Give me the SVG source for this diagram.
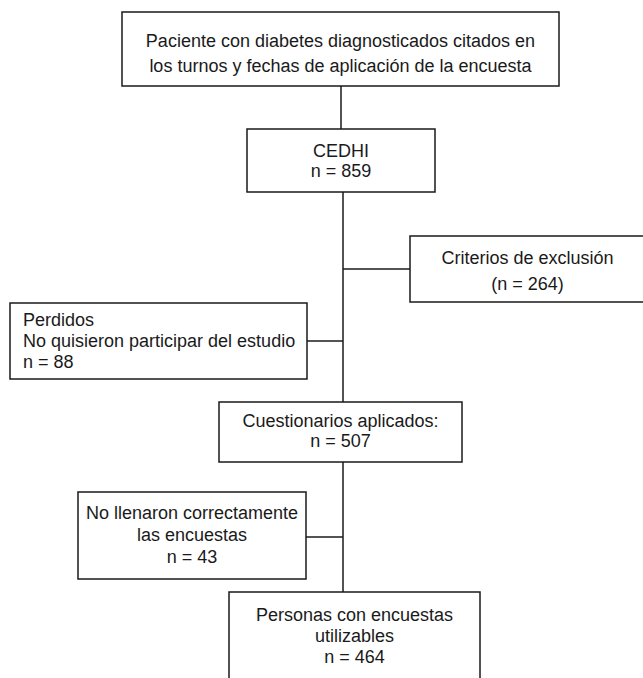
<svg xmlns="http://www.w3.org/2000/svg" width="643" height="678" viewBox="0 0 643 678">
<style>
rect{fill:#fff;stroke:#1a1a1a;stroke-width:1.5}
line,path{stroke:#1a1a1a;stroke-width:1.5;fill:none}
text{font-family:"Liberation Sans",Arial,sans-serif;font-size:18px;fill:#1a1a1a}
.c{text-anchor:middle}
</style>
<rect width="643" height="678" style="fill:#fff;stroke:none"/>
<g id="connectors">
<line x1="341" y1="86" x2="341" y2="129"/>
<line x1="343" y1="192" x2="343" y2="402"/>
<line x1="343" y1="269" x2="410" y2="269"/>
<line x1="307" y1="341" x2="343" y2="341"/>
<line x1="343" y1="462" x2="343" y2="592"/>
<line x1="306" y1="537" x2="343" y2="537"/>
</g>
<g id="n1">
<rect x="122" y="12" width="437" height="74"/>
<text class="c" x="340.5" y="47">Paciente con diabetes diagnosticados citados en</text>
<text class="c" x="340.5" y="72">los turnos y fechas de aplicación de la encuesta</text>
</g>
<g id="n2">
<rect x="247" y="129" width="188" height="63"/>
<text class="c" x="341" y="157">CEDHI</text>
<text class="c" x="341" y="177">n = 859</text>
</g>
<g id="n3">
<rect x="410" y="236" width="245" height="66"/>
<text class="c" x="527.5" y="264">Criterios de exclusión</text>
<text class="c" x="527.5" y="290">(n = 264)</text>
</g>
<g id="n4">
<rect x="10" y="303" width="297" height="76"/>
<text x="23" y="326">Perdidos</text>
<text x="23" y="347">No quisieron participar del estudio</text>
<text x="23" y="368">n = 88</text>
</g>
<g id="n5">
<rect x="219" y="402" width="243" height="60"/>
<text class="c" x="340.5" y="427">Cuestionarios aplicados:</text>
<text class="c" x="340.5" y="447">n = 507</text>
</g>
<g id="n6">
<rect x="78" y="492" width="228" height="87"/>
<text class="c" x="192" y="519">No llenaron correctamente</text>
<text class="c" x="192" y="541">las encuestas</text>
<text class="c" x="192" y="563">n = 43</text>
</g>
<g id="n7">
<rect x="229" y="592" width="251" height="100"/>
<text class="c" x="354.5" y="621">Personas con encuestas</text>
<text class="c" x="354.5" y="642">utilizables</text>
<text class="c" x="354.5" y="663">n = 464</text>
</g>
</svg>
